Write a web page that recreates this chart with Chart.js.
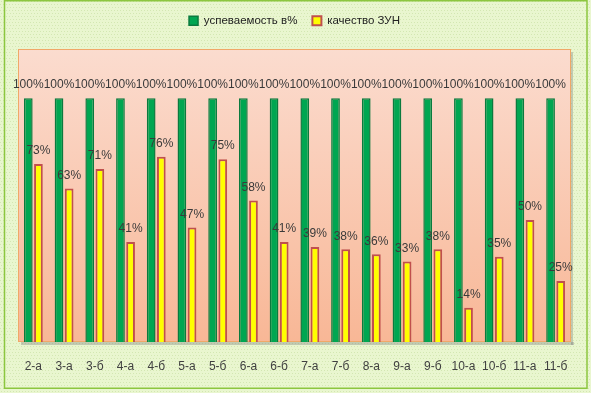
<!DOCTYPE html>
<html><head><meta charset="utf-8">
<script src="https://cdn.jsdelivr.net/npm/chart.js@4.4.1/dist/chart.umd.min.js"></script>
<style>html,body{margin:0;padding:0;background:#fff;}#wrap{width:591px;height:393px;}</style>
</head><body><div id="wrap"><canvas id="c" width="591" height="393"></canvas></div>
<script>
const categories = ["2-а","3-а","3-б","4-а","4-б","5-а","5-б","6-а","6-б","7-а","7-б","8-а","9-а","9-б","10-а","10-б","11-а","11-б"];
const uspevaemost = [100,100,100,100,100,100,100,100,100,100,100,100,100,100,100,100,100,100];
const kachestvo = [73,63,71,41,76,47,75,58,41,39,38,36,33,38,14,35,50,25];
const seriesNames = ["успеваемость в%","качество ЗУН"];
const plotTopValue = 120;

const FONT = "'Liberation Sans', Arial, sans-serif";

const bgPlugin = {
  id: 'bg',
  beforeDraw(chart) {
    const ctx = chart.ctx, a = chart.chartArea;
    const top = Math.round(chart.scales.y.getPixelForValue(plotTopValue));
    ctx.save();
    ctx.fillStyle = '#e9f6cf';
    ctx.fillRect(0, 0, chart.width, chart.height);
    ctx.fillStyle = 'rgba(190,215,150,0.5)';
    for (let y = 1; y < chart.height; y += 3) for (let x = (y % 2); x < chart.width; x += 3) ctx.fillRect(x, y, 1, 1);
    ctx.strokeStyle = '#8cc63f';
    ctx.lineWidth = 1.5;
    ctx.strokeRect(4.5, 0.75, 582.5, 387.5);
    ctx.fillStyle = 'rgba(120,120,120,0.35)';
    ctx.fillRect(a.left + 3, a.bottom, a.right - a.left, 3);
    ctx.fillRect(a.right, top + 3, 2, a.bottom - top);
    const g = ctx.createLinearGradient(0, top, 0, a.bottom);
    g.addColorStop(0, '#fbdccf');
    g.addColorStop(1, '#f8b796');
    ctx.fillStyle = g;
    ctx.fillRect(a.left, top, a.right - a.left, a.bottom - top);
    ctx.strokeStyle = '#f0a868';
    ctx.lineWidth = 1;
    ctx.strokeRect(a.left + 0.5, top + 0.5, a.right - a.left - 1, a.bottom - top - 1);
    ctx.restore();
  }
};

const labelPlugin = {
  id: 'vlabels',
  afterDatasetsDraw(chart) {
    const ctx = chart.ctx;
    ctx.save();
    ctx.font = '12px ' + FONT;
    ctx.fillStyle = '#3a3a3a';
    ctx.textAlign = 'center';
    ctx.textBaseline = 'middle';
    chart.data.datasets.forEach((ds, i) => {
      chart.getDatasetMeta(i).data.forEach((el, j) => {
        ctx.fillText(ds.data[j] + '%', el.x, el.y - 13);
      });
    });
    ctx.restore();
  }
};

new Chart(document.getElementById('c'), {
  type: 'bar',
  data: {
    labels: categories,
    datasets: [
      { label: seriesNames[0], data: uspevaemost, backgroundColor: '#00a651', borderColor: '#0b7a3e', borderWidth: 1.5 },
      { label: seriesNames[1], data: kachestvo, backgroundColor: '#ffff00', borderColor: '#c0504d', borderWidth: 2 }
    ]
  },
  options: {
    responsive: false,
    animation: false,
    devicePixelRatio: 1,
    layout: { padding: { left: 18, right: 20, top: 0, bottom: 0 } },
    categoryPercentage: 0.66,
    barPercentage: 0.86,
    plugins: {
      legend: {
        position: 'top',
        labels: { boxWidth: 9, boxHeight: 9, padding: 15, color: '#222', font: { size: 11.5, family: FONT } }
      },
      tooltip: { enabled: false }
    },
    scales: {
      x: {
        grid: { display: false }, border: { display: false },
        ticks: { color: '#404040', padding: 9, font: { size: 12, family: FONT } },
        afterFit(s) { s.height = 51; }
      },
      y: { display: false, min: 0, max: 125.3 }
    }
  },
  plugins: [bgPlugin, labelPlugin]
});
</script></body></html>
